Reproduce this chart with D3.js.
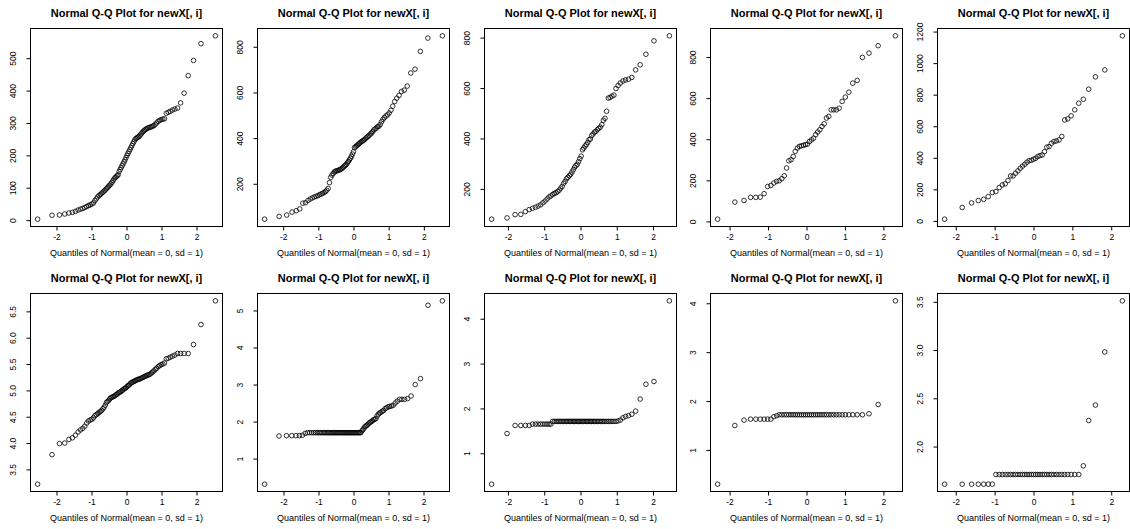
<!DOCTYPE html>
<html>
<head>
<meta charset="utf-8">
<script src="https://cdn.jsdelivr.net/npm/d3@7"></script>
<style>
  body { margin: 0; background: #fff; }
  svg text { font-family: "Liberation Sans", Arial, sans-serif; fill: #000; }
</style>
</head>
<body>
<script>

// sorted sample values (top row, then bottom row)
const qq1 = [3,15,16,19,22,24,27,31,34,36,39,42,45,47,50,53,60,66,72,76,79,83,86,90,93,97,101,105,108,112,
  117,122,127,131,134,137,140,150,156,162,168,174,180,186,193,200,206,212,218,224,230,236,242,248,252,254,256,258,262,266,
  270,274,277,280,282,284,286,287,288,290,292,296,300,305,308,310,312,313,330,333,336,340,343,346,362,392,446,493,545,569];
const qq2 = [45,57,63,76,82,90,115,117,127,133,138,142,145,148,152,155,158,162,166,172,180,205,228,238,245,252,255,257,258,260,
  262,265,268,272,277,281,285,292,298,305,312,320,330,340,358,362,366,370,374,378,382,385,388,391,395,400,404,408,412,418,
  422,428,436,440,444,450,452,460,472,482,490,497,502,510,522,540,560,575,587,604,610,628,685,702,780,838,848];
const qq3 = [80,85,98,99,110,118,123,127,132,137,145,152,160,168,172,178,182,185,190,195,203,210,222,230,240,246,252,258,267,276,
  286,292,298,308,320,330,355,362,370,376,384,395,398,412,418,425,428,435,440,445,455,472,480,508,560,563,568,572,598,610,
  620,628,632,635,642,672,692,734,787,807];
const qq4 = [11,94,102,117,117,118,135,170,175,187,195,198,208,222,260,295,300,316,341,357,365,368,370,374,376,389,397,405,422,435,
  446,462,475,503,511,543,543,543,551,584,605,629,673,686,798,819,855,903];
const qq5 = [11,85,114,129,137,154,180,186,211,228,235,256,285,285,302,317,334,347,359,372,382,384,391,397,408,414,418,439,467,471,
  492,503,507,513,535,640,647,666,704,746,771,835,913,957,1173];
const qq6 = [3.22,3.78,3.99,4.00,4.07,4.10,4.15,4.21,4.25,4.28,4.32,4.38,4.42,4.44,4.45,4.48,4.52,4.54,4.56,4.58,
  4.60,4.62,4.65,4.68,4.72,4.77,4.79,4.81,4.84,4.86,4.87,4.88,4.89,4.90,4.92,4.93,4.95,4.96,4.97,4.98,
  5.00,5.01,5.03,5.04,5.05,5.07,5.09,5.10,5.12,5.14,5.15,5.16,5.17,5.18,5.19,5.20,5.21,5.21,5.22,5.23,
  5.24,5.25,5.26,5.27,5.28,5.29,5.30,5.31,5.33,5.35,5.37,5.40,5.42,5.45,5.47,5.49,5.50,5.52,5.60,5.61,
  5.63,5.65,5.67,5.70,5.70,5.70,5.70,5.87,6.25,6.70];
const qq7 = [0.31,1.61,1.62,1.62,1.62,1.62,1.63,1.68,
  1.70,1.70,1.70,1.70,1.70,1.70,1.70,1.70,1.70,1.70,1.70,1.70,1.70,1.70,1.70,
  1.70,1.70,1.70,1.70,1.70,1.70,1.70,1.70,1.70,1.70,1.70,1.70,1.70,1.70,1.70,
  1.70,1.70,1.70,1.70,1.70,1.70,1.70,1.70,1.70,1.70,1.70,1.70,1.70,1.70,1.70,
  1.75,1.78,1.82,1.86,1.88,1.90,1.93,1.96,1.98,2.00,2.02,2.05,2.06,2.08,2.15,2.20,2.23,2.25,2.28,2.30,
  2.35,2.37,2.40,2.41,2.42,2.44,2.50,2.55,2.60,2.60,2.60,2.62,2.69,3.00,3.16,5.14,5.26];
const qq8 = [0.31,1.44,1.62,1.62,1.62,1.62,1.65,1.65,1.65,1.65,1.65,1.65,1.65,1.65,1.65,
  1.71,1.71,1.71,1.71,1.71,1.71,1.71,1.71,1.71,1.71,1.71,1.71,1.71,1.71,1.71,1.71,1.71,1.71,1.71,1.71,1.71,1.71,
  1.71,1.71,1.71,1.71,1.71,1.71,1.71,1.71,1.71,1.71,1.71,1.71,1.71,1.71,1.71,1.71,1.71,1.71,1.71,1.71,1.71,1.71,
  1.72,1.74,1.79,1.82,1.84,1.87,1.94,2.21,2.54,2.60,4.40];
const qq9 = [0.30,1.50,1.61,1.63,1.63,1.63,1.63,1.63,1.63,1.68,1.70,
  1.72,1.72,1.72,1.72,1.72,1.72,1.72,1.72,1.72,1.72,1.72,1.72,1.72,1.72,1.72,1.72,1.72,
  1.72,1.72,1.72,1.72,1.72,1.72,1.72,1.72,1.72,1.72,1.72,1.72,1.72,1.72,1.72,1.72,1.72,
  1.74,1.93,4.05];
const qq10 = [1.61,1.61,1.61,1.61,1.61,1.61,1.61,
  1.71,1.71,1.71,1.71,1.71,1.71,1.71,1.71,1.71,1.71,1.71,1.71,1.71,1.71,1.71,1.71,1.71,
  1.71,1.71,1.71,1.71,1.71,1.71,1.71,1.71,1.71,1.71,1.71,1.71,1.71,1.71,1.71,1.71,
  1.80,2.27,2.43,2.98,3.51];

// tick labels
const xTicks = ["-2", "-1", "0", "1", "2"];
const yTicks1 = ["0", "100", "200", "300", "400", "500"];
const yTicks2 = ["200", "400", "600", "800"];
const yTicks3 = ["200", "400", "600", "800"];
const yTicks4 = ["0", "200", "400", "600", "800"];
const yTicks5 = ["0", "200", "400", "600", "800", "1000", "1200"];
const yTicks6 = ["3.5", "4.0", "4.5", "5.0", "5.5", "6.0", "6.5"];
const yTicks7 = ["1", "2", "3", "4", "5"];
const yTicks8 = ["1", "2", "3", "4"];
const yTicks9 = ["1", "2", "3", "4"];
const yTicks10 = ["2.0", "2.5", "3.0", "3.5"];

const mainTitle = "Normal Q-Q Plot for newX[, i]";
const xTitle = "Quantiles of Normal(mean = 0, sd = 1)";

const panels = [
  [qq1, yTicks1], [qq2, yTicks2], [qq3, yTicks3], [qq4, yTicks4], [qq5, yTicks5],
  [qq6, yTicks6], [qq7, yTicks7], [qq8, yTicks8], [qq9, yTicks9], [qq10, yTicks10]
];

const width = 1130, height = 529;
const cellW = 226.75, rowH = 265;
const boxW = 192, boxH = 198;

const svg = d3.select("body").append("svg")
  .attr("width", width)
  .attr("height", height);

svg.append("rect").attr("width", width).attr("height", height).attr("fill", "#fff");

//inverse normal cdf (Acklam)
const qnorm = p => {
  const a = [-3.969683028665376e+01, 2.209460984245205e+02, -2.759285104469687e+02, 1.383577518672690e+02, -3.066479806614716e+01, 2.506628277459239e+00];
  const b = [-5.447609879822406e+01, 1.615858368580409e+02, -1.556989798598866e+02, 6.680131188771972e+01, -1.328068155288572e+01];
  const c = [-7.784894002430293e-03, -3.223964580411365e-01, -2.400758277161838e+00, -2.549732539343734e+00, 4.374664141464968e+00, 2.938163982698783e+00];
  const d = [7.784695709041462e-03, 3.224671290700398e-01, 2.445134137142996e+00, 3.754408661907416e+00];
  const lo = 0.02425;
  if (p < lo || p > 1 - lo) {
    const q = Math.sqrt(-2 * Math.log(p < lo ? p : 1 - p));
    const v = (((((c[0]*q+c[1])*q+c[2])*q+c[3])*q+c[4])*q+c[5]) / ((((d[0]*q+d[1])*q+d[2])*q+d[3])*q+1);
    return p < lo ? v : -v;
  }
  const q = p - 0.5, r = q * q;
  return (((((a[0]*r+a[1])*r+a[2])*r+a[3])*r+a[4])*r+a[5])*q / (((((b[0]*r+b[1])*r+b[2])*r+b[3])*r+b[4])*r+1);
};

// R style range: data range + 4%
const padded = ext => {
  const pad = (ext[1] - ext[0]) * 0.04;
  return [ext[0] - pad, ext[1] + pad];
};

panels.forEach(([values, yTicks], k) => {
  const col = k % 5, row = Math.floor(k / 5);
  const left = Math.round(col * cellW + 30) + 0.5;
  const top = row * rowH + 28 + 0.5;
  const n = values.length;
  const pts = values.map((v, i) => [qnorm((i + 0.5) / n), v]);

  const x = d3.scaleLinear()
    .domain(padded(d3.extent(pts, d => d[0])))
    .range([left, left + boxW]);
  const y = d3.scaleLinear()
    .domain(padded(d3.extent(pts, d => d[1])))
    .range([top + boxH, top]);

  const g = svg.append("g");

  //x axis
  const gx = g.append("g")
    .attr("transform", `translate(0,${top + boxH})`)
    .call(d3.axisBottom(x).tickValues(xTicks.map(Number)).tickFormat((d, i) => xTicks[i]).tickSize(4).tickPadding(3.5));
  gx.attr("font-size", null).attr("font-family", null);
  gx.select(".domain").remove();
  gx.selectAll("text").style("font-size", "8.5px");

  //y axis, rotated labels like R
  const gy = g.append("g")
    .attr("transform", `translate(${left},0)`)
    .call(d3.axisLeft(y).tickValues(yTicks.map(Number)).tickFormat((d, i) => yTicks[i]).tickSize(4));
  gy.attr("font-size", null).attr("font-family", null);
  gy.select(".domain").remove();
  gy.selectAll("text")
    .attr("transform", "rotate(-90)")
    .attr("x", 0)
    .attr("y", -15)
    .attr("dy", 0)
    .style("text-anchor", "middle")
    .style("font-size", "8.5px");

  g.selectAll(".tick line").attr("stroke", "#000");

  //box
  g.append("rect")
    .attr("x", left).attr("y", top)
    .attr("width", boxW).attr("height", boxH)
    .attr("fill", "none")
    .attr("stroke", "#000")
    .attr("stroke-width", 1);

  //points
  g.append("g").selectAll("circle")
    .data(pts)
    .enter()
    .append("circle")
    .attr("cx", d => x(d[0]))
    .attr("cy", d => y(d[1]))
    .attr("r", 2.3)
    .attr("fill", "none")
    .attr("stroke", "#000")
    .attr("stroke-width", 0.8);

  //titles
  g.append("text")
    .attr("x", left + boxW / 2)
    .attr("y", top - 11.5)
    .attr("text-anchor", "middle")
    .style("font-size", "11px")
    .style("font-weight", "bold")
    .text(mainTitle);

  g.append("text")
    .attr("x", left + boxW / 2)
    .attr("y", top + boxH + 29)
    .attr("text-anchor", "middle")
    .style("font-size", "9px")
    .text(xTitle);
});

</script>
</body>
</html>
